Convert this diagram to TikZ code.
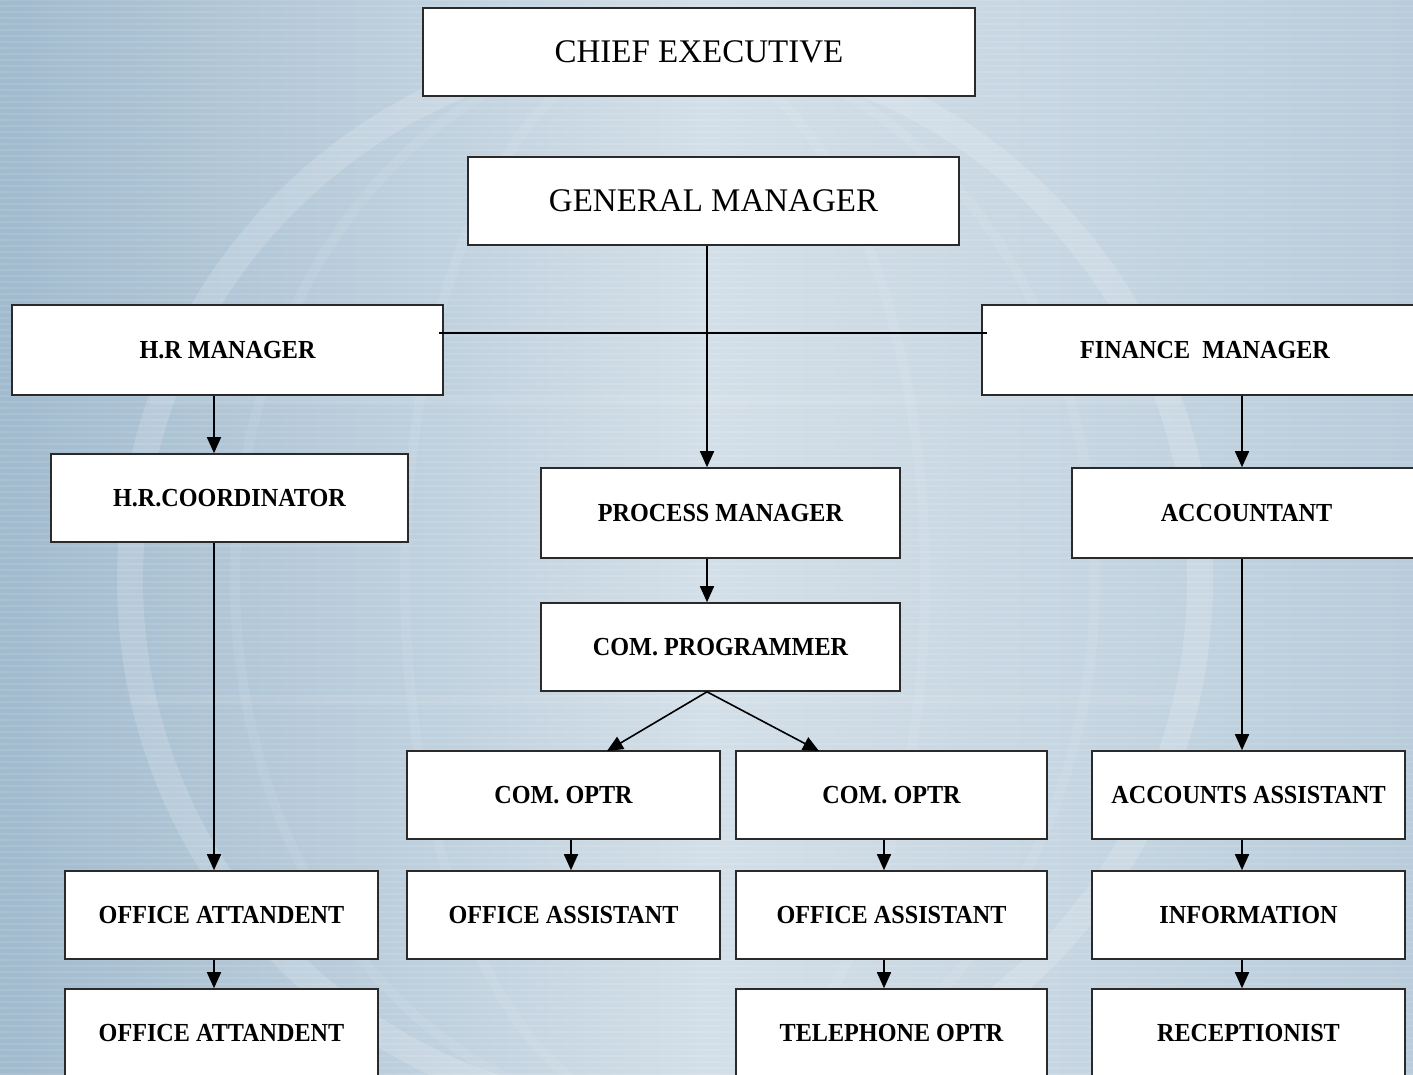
\documentclass[tikz,border=0pt]{standalone}
\usepackage{fontspec}
\setmainfont{Liberation Serif}
\newfontfamily\boxfont[FakeStretch=0.93]{Liberation Serif}
\usetikzlibrary{arrows.meta}
\definecolor{bgleft}{HTML}{A0BACE}
\definecolor{bgmid}{HTML}{D3DFE8}
\definecolor{bgright}{HTML}{B9CCDB}
\definecolor{edge}{HTML}{2A2A2A}
\tikzset{
  rolebox/.style={draw=edge, line width=1.6pt, fill=white, inner sep=0pt, align=center,
    font=\boxfont\bfseries\fontsize{26}{30}\selectfont},
  topbox/.style={rolebox, font=\fontsize{33}{38}\selectfont},
  link/.style={line width=1.6pt, draw=black},
  arr/.style={link, -{Triangle[width=14pt,length=16pt]}},
}
\begin{document}
\begin{tikzpicture}[x=1pt,y=-1pt]
\useasboundingbox (0,0) rectangle (1413,1074);
% background
\shade[shading=axis, left color=bgleft, right color=bgright, middle color=bgmid, shading angle=90] (0,0) rectangle (1413,1074);
\foreach \yy in {0,6,...,1074} {\draw[white, opacity=0.10, line width=2pt] (0,\yy) -- (1413,\yy);}
% faint globe watermark
\draw[white, opacity=0.16, line width=26pt] (665,580) circle (535);
\draw[white, opacity=0.08, line width=10pt] (665,580) ellipse (260 and 535);
\draw[white, opacity=0.08, line width=10pt] (665,580) ellipse (430 and 535);
\draw[white, opacity=0.07, line width=10pt] (150,400) -- (1180,400);
\draw[white, opacity=0.07, line width=10pt] (130,700) -- (1200,700);

% nodes
\node[topbox, minimum width=552pt, minimum height=88pt] (ce) at (699,52) {CHIEF EXECUTIVE};
\node[topbox, minimum width=491pt, minimum height=88pt] (gm) at (713.5,201) {GENERAL MANAGER};
\node[rolebox, minimum width=431pt, minimum height=90pt] (hr) at (227.5,350) {H.R MANAGER};
\node[rolebox, minimum width=446pt, minimum height=90pt] (fin) at (1205,350) {FINANCE \ MANAGER};
\node[rolebox, minimum width=357pt, minimum height=88pt] (hrc) at (229.5,498) {H.R.COORDINATOR};
\node[rolebox, minimum width=359pt, minimum height=90pt] (pm) at (720.5,513) {PROCESS MANAGER};
\node[rolebox, minimum width=349pt, minimum height=90pt] (acc) at (1246.5,513) {ACCOUNTANT};
\node[rolebox, minimum width=359pt, minimum height=88pt] (prog) at (720.5,647) {COM. PROGRAMMER};
\node[rolebox, minimum width=313pt, minimum height=88pt] (op1) at (563.5,795) {COM. OPTR};
\node[rolebox, minimum width=311pt, minimum height=88pt] (op2) at (891.5,795) {COM. OPTR};
\node[rolebox, minimum width=313pt, minimum height=88pt] (aa) at (1248.5,795) {ACCOUNTS ASSISTANT};
\node[rolebox, minimum width=313pt, minimum height=88pt] (oa) at (221.5,915) {OFFICE ATTANDENT};
\node[rolebox, minimum width=313pt, minimum height=88pt] (as1) at (563.5,915) {OFFICE ASSISTANT};
\node[rolebox, minimum width=311pt, minimum height=88pt] (as2) at (891.5,915) {OFFICE ASSISTANT};
\node[rolebox, minimum width=313pt, minimum height=88pt] (inf) at (1248.5,915) {INFORMATION};
\node[rolebox, minimum width=313pt, minimum height=88pt] (oa2) at (221.5,1033) {OFFICE ATTANDENT};
\node[rolebox, minimum width=311pt, minimum height=88pt] (tel) at (891.5,1033) {TELEPHONE OPTR};
\node[rolebox, minimum width=313pt, minimum height=88pt] (rec) at (1248.5,1033) {RECEPTIONIST};

% guide coordinates for connector columns
\coordinate (xgm) at (707,0);
\coordinate (xhr) at (214,0);
\coordinate (xfin) at (1242,0);
\coordinate (xop1) at (571,0);
\coordinate (xop2) at (884,0);
\coordinate (ybar) at (0,333);
\coordinate (tip1) at (607,751);
\coordinate (tip2) at (819,751);

% connectors
\draw[link, shorten <=-5pt, shorten >=-6pt] (hr.east |- ybar) -- (fin.west |- ybar);
\draw[arr] (gm.south -| xgm) -- (pm.north -| xgm);
\draw[arr] (hr.south -| xhr) -- (hrc.north -| xhr);
\draw[arr] (hrc.south -| xhr) -- (oa.north -| xhr);
\draw[arr] (oa.south -| xhr) -- (oa2.north -| xhr);
\draw[arr] (fin.south -| xfin) -- (acc.north -| xfin);
\draw[arr] (acc.south -| xfin) -- (aa.north -| xfin);
\draw[arr] (aa.south -| xfin) -- (inf.north -| xfin);
\draw[arr] (inf.south -| xfin) -- (rec.north -| xfin);
\draw[arr] (pm.south -| xgm) -- (prog.north -| xgm);
\draw[arr] (prog.south -| xgm) -- (tip1);
\draw[arr] (prog.south -| xgm) -- (tip2);
\draw[arr] (op1.south -| xop1) -- (as1.north -| xop1);
\draw[arr] (op2.south -| xop2) -- (as2.north -| xop2);
\draw[arr] (as2.south -| xop2) -- (tel.north -| xop2);
\end{tikzpicture}
\end{document}
